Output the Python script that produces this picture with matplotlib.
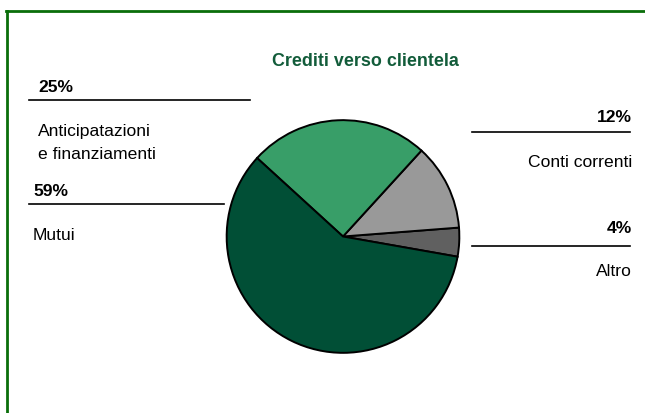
import matplotlib.pyplot as plt
from matplotlib.lines import Line2D

plt.rcParams['font.family'] = ['Liberation Sans', 'DejaVu Sans']

# dati
categorie = ['Altro', 'Conti correnti', 'Anticipatazioni\ne finanziamenti', 'Mutui']
quote = [4, 12, 25, 59]
colori = ['#606060', '#999999', '#389e68', '#014f36']
titolo = 'Crediti verso clientela'

W, H = 645, 414
FS = 12.6
fig = plt.figure(figsize=(W / 100, H / 100), dpi=100)


def fx(x):
    return x / W


def fy(y):
    return 1 - y / H


# cornice verde (solo lati sinistro e superiore visibili)
fig.add_artist(Line2D([fx(7), fx(7)], [fy(12), fy(H + 5)], color='#0a6e0a', lw=2, transform=fig.transFigure))
fig.add_artist(Line2D([fx(6), fx(W + 5)], [fy(12), fy(12)], color='#0a6e0a', lw=2, transform=fig.transFigure))

# torta
cx, cy, r = 343, 237.5, 117.5
ax = fig.add_axes([fx(cx - r), fy(cy + r), 2 * r / W, 2 * r / H])
ax.pie(quote, colors=colori, startangle=-10, counterclock=True, radius=1,
       wedgeprops=dict(edgecolor='black', linewidth=1.4))
ax.set_xlim(-1.01, 1.01)
ax.set_ylim(-1.01, 1.01)
ax.axis('off')

fig.text(fx(365), fy(61), titolo, color='#125c3a', fontsize=12.9, fontweight='bold',
         ha='center', va='center')

# etichette a sinistra: (indice, x testo, y pct, y linea, y nome, fine linea)
sinistra = [(2, 38, 87, 101, 143, 250), (3, 33, 191, 205, 236, 224)]
for i, xt, yp, yl, yn, xe in sinistra:
    fig.text(fx(xt), fy(yp), f'{quote[i]}%', fontsize=FS, fontweight='bold', ha='left', va='center')
    fig.add_artist(Line2D([fx(29), fx(xe)], [fy(yl), fy(yl)], color='black', lw=1.2, transform=fig.transFigure))
    fig.text(fx(xt), fy(yn), categorie[i], fontsize=FS, ha='left', va='center', linespacing=1.7)

destra = [(1, 118, 133, 163), (0, 229, 247, 272)]
for i, yp, yl, yn in destra:
    fig.text(fx(632), fy(yp), f'{quote[i]}%', fontsize=FS, fontweight='bold', ha='right', va='center')
    fig.add_artist(Line2D([fx(472), fx(630)], [fy(yl), fy(yl)], color='black', lw=1.2, transform=fig.transFigure))
    fig.text(fx(632), fy(yn), categorie[i], fontsize=FS, ha='right', va='center')

fig.savefig('out.png', dpi=100)
